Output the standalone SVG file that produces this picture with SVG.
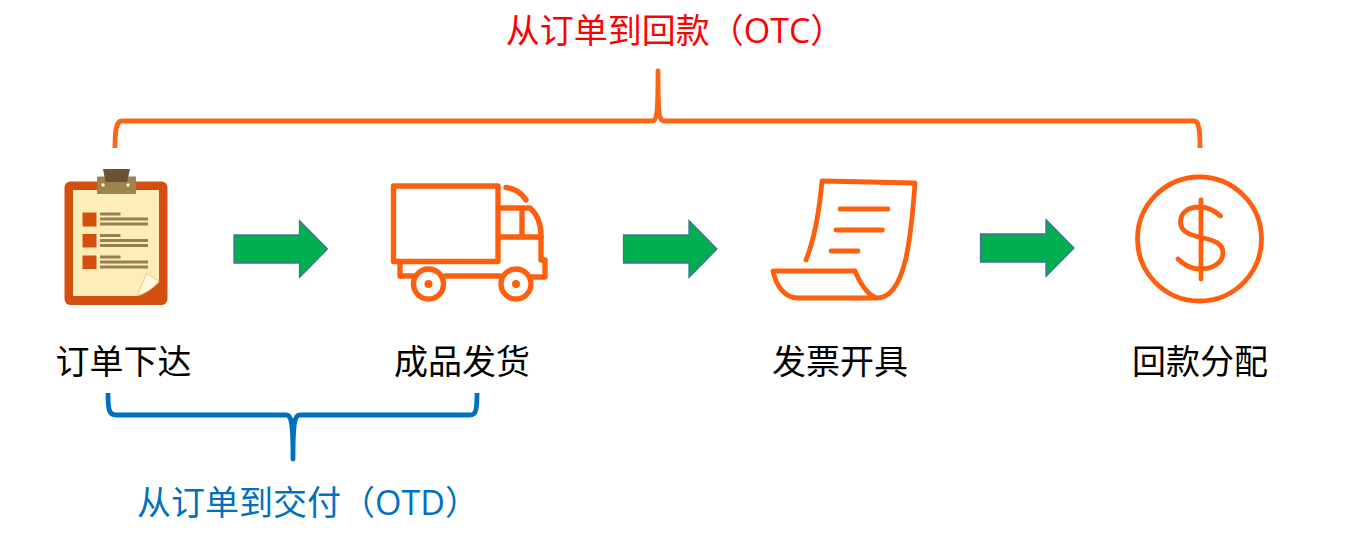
<svg xmlns="http://www.w3.org/2000/svg" width="1364" height="542" viewBox="0 0 1364 542">
<style>
text{font-family:"Open Sans","Noto Sans CJK SC",sans-serif;font-size:34px;text-anchor:middle}
.lb{fill:#000}
.ic{fill:none;stroke:#fd5f11;stroke-width:4.800;stroke-linecap:round;stroke-linejoin:round}
.tk{stroke-width:5.400}
.ar{fill:#00b050;stroke:#41719c;stroke-width:1.300}
.br{fill:none;stroke-width:4.800;stroke-linejoin:round}
.soft{filter:url(#soft)}
</style>
<defs>
<filter id="soft" x="-5%" y="-5%" width="110%" height="110%"><feGaussianBlur stdDeviation="0.500"/></filter>
<path id="arrow" class="ar" d="M0 -14H65.500V-28.500L93.500 0 65.500 28.500V14H0Z"/>
</defs>
<rect width="1364" height="542" fill="#fff"/>
<g id="connectors">
<use href="#arrow" x="234" y="249"/>
<use href="#arrow" x="623.500" y="249"/>
<use href="#arrow" x="980.500" y="248"/>
<path class="br soft" stroke="#fd6518" d="M115 148C115 130 116 121 122 121H652C657 121 658 115 658 71C658 115 659 121 664 121H1194C1199 121 1200 130 1200 148"/>
<path class="br soft" stroke="#0070c0" d="M108 393C108 410 109 415 116 415H286C291 415 293 420 293 459C293 420 295 415 300 415H470C476 415 477 410 477 393"/>
</g>
<g id="node-order">
<g class="soft">
<rect x="64.500" y="181.500" width="103" height="123.500" rx="6" fill="#d2500f"/>
<path d="M73 190H159V282L137 296H73Z" fill="#ffedb9"/>
<path d="M137 296L146.500 273 159 281.500Q150 292 137 296Z" fill="#fff7dc" stroke="#e9c993" stroke-width="1"/>
<path d="M97 176.500H136V194H97Z" fill="#9c8450"/>
<path d="M103 169H130L127 182H105.500Z" fill="#6b5332"/>
<circle cx="103" cy="185" r="1.700" fill="#fff3d0"/><circle cx="128" cy="185" r="1.700" fill="#fff3d0"/>
<g fill="#d2500f"><rect x="82.500" y="212.500" width="14" height="14"/><rect x="82.500" y="234" width="14" height="13.500"/><rect x="82.500" y="255.500" width="14" height="13.500"/></g>
<g fill="#96804f">
<rect x="100" y="212.500" width="20.500" height="3"/><rect x="100" y="217.500" width="48" height="3"/><rect x="100" y="222.500" width="48" height="3"/>
<rect x="100" y="234" width="20.500" height="3"/><rect x="100" y="239" width="48" height="3"/><rect x="100" y="244" width="48" height="3"/>
<rect x="100" y="255.500" width="20.500" height="3"/><rect x="100" y="260.500" width="48" height="3"/><rect x="100" y="265.500" width="48" height="3"/>
</g>
</g>
<text class="lb" x="123.500" y="374">订单下达</text>
</g>
<g id="node-ship">
<g class="soft">
<path class="ic tk" d="M393.500 186H498V261.500H393.500Z"/>
<path class="ic tk" d="M499 208H530C537 214 541 224 541 236V260H545V277H532M500 276H445M413 276H400V262"/>
<path class="ic tk" d="M499 237H541M522 209V237M506 187.500Q519 189 526 200"/>
<circle class="ic tk" cx="428.500" cy="284" r="15"/><circle class="ic tk" cx="516" cy="284" r="15"/>
<circle cx="428.500" cy="284" r="4" fill="#fd5f11"/><circle cx="516" cy="284" r="4" fill="#fd5f11"/>
</g>
<text class="lb" x="462" y="374">成品发货</text>
</g>
<g id="node-invoice">
<g class="soft">
<path class="ic" d="M806 260C814 240 819 215 822 181L915 183C911 240 905 298 877 298H798C785 298 776 286 773 271H855C860 283 867 295 877 298"/>
<path class="ic" d="M840 209H888M836 230H882.500M831 251H858"/>
</g>
<text class="lb" x="840" y="374">发票开具</text>
</g>
<g id="node-refund">
<g class="soft">
<circle class="ic" cx="1199.500" cy="239" r="62"/>
<path class="ic" d="M1220.500 216C1213 209 1206 207 1199 207C1188 207 1180.500 213 1180.500 222C1180.500 232 1190 235 1201 237.500C1213 240 1223 243 1223 253C1223 263 1212 269 1200 269C1191 269 1184 265 1178 259M1201 200V279"/>
</g>
<text class="lb" x="1200" y="374">回款分配</text>
</g>
<g id="label-otc"><text x="675" y="43" fill="#f00">从订单到回款（OTC）</text></g>
<g id="label-otd"><text x="308" y="515" fill="#0070c0">从订单到交付（OTD）</text></g>
</svg>
